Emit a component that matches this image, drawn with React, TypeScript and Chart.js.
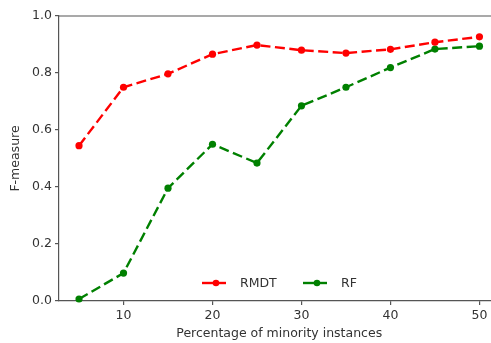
import React, { useEffect, useRef } from "react";
import { Chart, registerables } from "chart.js";

Chart.register(...registerables);

const percentages = [5, 10, 15, 20, 25, 30, 35, 40, 45, 50];
const rmdtValues = [0.545, 0.75, 0.797, 0.866, 0.898, 0.88, 0.87, 0.883, 0.908, 0.927];
const rfValues = [0.007, 0.098, 0.396, 0.55, 0.484, 0.685, 0.75, 0.819, 0.884, 0.894];
const xTickValues = [10, 20, 30, 40, 50];
const xMin = 2.75;
const xMax = 51.3;
const xFullMax = 52.25;
const xTitle = "Percentage of minority instances";
const yTitle = "F-measure";
const seriesNames = ["RMDT", "RF"];
const seriesColors = ["#ff0000", "#008000"];

const FONT = "'DejaVu Sans', sans-serif";
const AXIS = "#555";
const TEXT = "#333";

const framePlugin = {
  id: "frame",
  afterDraw(chart: any) {
    const { ctx, chartArea } = chart;
    const xs = chart.scales.x;
    ctx.save();
    ctx.strokeStyle = AXIS;
    ctx.lineWidth = 1.2;
    ctx.beginPath();
    ctx.moveTo(chartArea.left, chartArea.top);
    ctx.lineTo(chartArea.right + 5, chartArea.top);
    ctx.stroke();

    ctx.font = `12.5px ${FONT}`;
    // x-axis title, centred on the full (cropped) axes width
    ctx.fillStyle = TEXT;
    ctx.textAlign = "center";
    ctx.textBaseline = "middle";
    ctx.fillText(xTitle, xs.getPixelForValue((xMin + xFullMax) / 2), 334);

    // legend inside the plot, bottom centre
    const y = chartArea.bottom - 18;
    const items = [
      { x: 202, label: seriesNames[0], color: seriesColors[0] },
      { x: 303, label: seriesNames[1], color: seriesColors[1] },
    ];
    ctx.textAlign = "left";
    for (const it of items) {
      ctx.strokeStyle = it.color;
      ctx.lineWidth = 2.4;
      ctx.setLineDash([]);
      ctx.beginPath();
      ctx.moveTo(it.x, y);
      ctx.lineTo(it.x + 24, y);
      ctx.stroke();
      ctx.fillStyle = it.color;
      ctx.beginPath();
      ctx.arc(it.x + 14, y, 3.3, 0, Math.PI * 2);
      ctx.fill();
      ctx.fillStyle = TEXT;
      ctx.fillText(it.label, it.x + 38, y + 1);
    }
    ctx.restore();
  },
};

export default function App() {
  const ref = useRef<HTMLCanvasElement>(null);
  useEffect(() => {
    document.body.style.margin = "0";
    const mk = (label: string, data: number[], color: string) => ({
      label,
      data: percentages.map((x, i) => ({ x, y: data[i] })),
      borderColor: color,
      backgroundColor: color,
      borderWidth: 2.4,
      borderDash: [10, 4.5],
      pointRadius: 3.6,
      pointHoverRadius: 3.6,
      pointBorderWidth: 0,
      pointBackgroundColor: color,
      tension: 0,
      fill: false,
      clip: false as any,
    });
    const chart = new Chart(ref.current!, {
      type: "line",
      data: {
        datasets: [
          mk(seriesNames[0], rmdtValues, seriesColors[0]),
          mk(seriesNames[1], rfValues, seriesColors[1]),
        ],
      },
      plugins: [framePlugin],
      options: {
        animation: false,
        responsive: false,
        devicePixelRatio: 1,
        layout: { autoPadding: false, padding: { left: 0, top: 16, right: 0, bottom: 0 } },
        plugins: { legend: { display: false }, tooltip: { enabled: false } },
        scales: {
          x: {
            type: "linear",
            min: xMin,
            max: xMax,
            afterBuildTicks: (s: any) => {
              s.ticks = xTickValues.map((v) => ({ value: v }));
            },
            afterFit: (s: any) => {
              s.height = 42;
              s.paddingLeft = 0;
              s.paddingRight = 0;
            },
            grid: {
              drawOnChartArea: false,
              drawTicks: true,
              tickLength: 4,
              color: AXIS,
              lineWidth: 1.2,
            },
            border: { display: true, color: AXIS, width: 1.2 },
            ticks: {
              color: TEXT,
              font: { family: FONT, size: 12.5 },
              padding: 3,
              maxRotation: 0,
              autoSkip: false,
            },
            title: { display: false },
          },
          y: {
            min: 0,
            max: 1,
            afterFit: (s: any) => {
              s.width = 59;
              s.paddingTop = 0;
              s.paddingBottom = 0;
            },
            grid: {
              drawOnChartArea: false,
              drawTicks: true,
              tickLength: 4,
              color: AXIS,
              lineWidth: 1.2,
            },
            border: { display: true, color: AXIS, width: 1.2 },
            ticks: {
              stepSize: 0.2,
              color: TEXT,
              font: { family: FONT, size: 12.5 },
              padding: 3,
              callback: (v: any) => Number(v).toFixed(1),
            },
            title: {
              display: true,
              text: yTitle,
              color: TEXT,
              font: { family: FONT, size: 12.5 },
              padding: { top: 8, bottom: 0 },
            },
          },
        },
      },
    });
    return () => chart.destroy();
  }, []);
  return (
    <div style={{ width: 491, height: 343, overflow: "hidden", background: "#fff" }}>
      <canvas ref={ref} width={491} height={343} style={{ display: "block" }} />
    </div>
  );
}
